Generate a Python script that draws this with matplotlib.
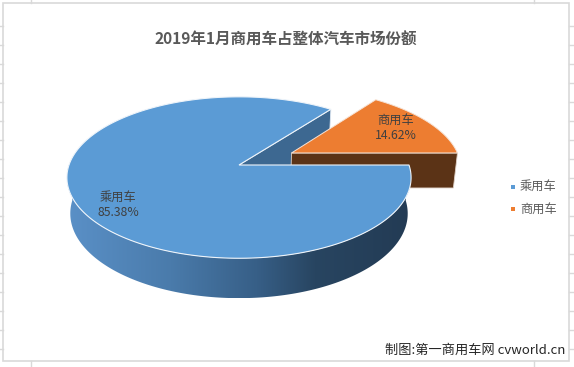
import numpy as np
import matplotlib
matplotlib.use("Agg")
import matplotlib.pyplot as plt
from matplotlib.patches import Polygon, Rectangle
from matplotlib.colors import LinearSegmentedColormap

plt.rcParams['font.family'] = ['Noto Sans CJK SC', 'DejaVu Sans']

# ---------------- data ----------------
title = "2019年1月商用车占整体汽车市场份额"
categories = ["乘用车", "商用车"]
shares = [85.38, 14.62]
pct_labels = ["85.38%", "14.62%"]
credit = "制图:第一商用车网 cvworld.cn"

# ---------------- style / layout ----------------
W, H = 574, 367
top_colors = ["#5b9bd5", "#ed7d31"]
cut_colors = ["#3d6891", "#5b3316"]
explode = [0.0, 0.353]
text_col = "#404040"

# 3D projection parameters (pixel space)
cx, cy = 239.0, 165.0
alpha = np.deg2rad(27.6)
s_a, c_a = np.sin(alpha), np.cos(alpha)
Dcam = 5.70
focal = 969.0
depth_h = 0.241


def proj(X, Y, Z):
    X = np.asarray(X, float); Y = np.asarray(Y, float); Z = np.asarray(Z, float)
    d = Dcam + Y * c_a - Z * s_a
    up = Y * s_a + Z * c_a
    return cx + focal * X / d, cy - focal * up / d


fig = plt.figure(figsize=(W / 100, H / 100), dpi=100)
ax = fig.add_axes([0, 0, 1, 1])
ax.set_xlim(0, W)
ax.set_ylim(H, 0)
ax.axis('off')

# spreadsheet frame and cell stubs
grid_c = "#d9d9d9"
ax.add_patch(Rectangle((2.5, 2.5), 569 - 2.5, 361 - 2.5, fill=False, ec=grid_c, lw=1.2, zorder=1))
for yy in np.arange(26, 361, 19):
    ax.plot([0, 2.5], [yy, yy], color=grid_c, lw=1, zorder=1)
    ax.plot([569, W], [yy, yy], color=grid_c, lw=1, zorder=1)
for xx in [31, 534]:
    ax.plot([xx, xx], [0, 2.5], color=grid_c, lw=1, zorder=1)
    ax.plot([xx, xx], [361, H], color=grid_c, lw=1, zorder=1)

# slice spans (degrees, counter-clockwise from 3 o'clock); the first slice
# starts at 3 o'clock and the slices follow clockwise
total = float(sum(shares))
spans = []
start = 360.0
for v in shares:
    sweep = 360.0 * v / total
    spans.append((start - sweep, start))
    start -= sweep
# -> first: 52.6..360, second: 0..52.6


def slice_geom(i):
    a1, a2 = spans[i]
    mid = np.deg2rad((a1 + a2) / 2)
    return a1, a2, explode[i] * np.cos(mid), explode[i] * np.sin(mid)


def top_poly(i):
    a1, a2, ox, oy = slice_geom(i)
    t = np.deg2rad(np.linspace(a1, a2, 200))
    X = np.concatenate([[ox], ox + np.cos(t)])
    Y = np.concatenate([[oy], oy + np.sin(t)])
    u, v = proj(X, Y, np.zeros_like(X))
    return np.column_stack([u, v])


def cut_poly(i, ang):
    a1, a2, ox, oy = slice_geom(i)
    t = np.deg2rad(ang)
    X = np.array([ox, ox + np.cos(t), ox + np.cos(t), ox])
    Y = np.array([oy, oy + np.sin(t), oy + np.sin(t), oy])
    Z = np.array([0, 0, -depth_h, -depth_h])
    u, v = proj(X, Y, Z)
    return np.column_stack([u, v])


def outer_wall(i):
    a1, a2, ox, oy = slice_geom(i)
    lo, hi = max(a1, 180.0), min(a2, 360.0)
    if hi <= lo:
        return None
    t = np.deg2rad(np.linspace(lo, hi, 200))
    X = ox + np.cos(t); Y = oy + np.sin(t)
    ut, vt = proj(X, Y, np.zeros_like(X))
    ub, vb = proj(X, Y, -depth_h * np.ones_like(X))
    return np.column_stack([np.concatenate([ut, ub[::-1]]), np.concatenate([vt, vb[::-1]])])


# 1. first slice: visible cut wall (at its start angle)
ax.add_patch(Polygon(cut_poly(0, spans[0][0]), closed=True, fc=cut_colors[0],
                     ec="#dfe8f2", lw=0.6, zorder=2))
# 2. exploded slice: front cut wall + top
ax.add_patch(Polygon(cut_poly(1, spans[1][0]), closed=True, fc=cut_colors[1],
                     ec="#e0d2c8", lw=0.6, zorder=3))
ax.add_patch(Polygon(top_poly(1), closed=True, fc=top_colors[1], ec="#f6e3d6", lw=0.7, zorder=4))

# 3. first slice outer wall with gradient
wall = outer_wall(0)
wall_patch = Polygon(wall, closed=True, fc="none", ec="none", zorder=5)
ax.add_patch(wall_patch)
cmap = LinearSegmentedColormap.from_list("side", [
    (0.0, "#5a90c7"), (0.3, "#4a7bab"), (0.55, "#375f87"),
    (0.72, "#284561"), (1.0, "#233b54")])
xmin, xmax = wall[:, 0].min(), wall[:, 0].max()
ymin, ymax = wall[:, 1].min(), wall[:, 1].max()
grad = np.linspace(0, 1, 256)[None, :]
im = ax.imshow(grad, cmap=cmap, extent=[xmin, xmax, ymax, ymin], aspect='auto',
               zorder=5, interpolation='bilinear')
im.set_clip_path(wall_patch)
ax.set_xlim(0, W)
ax.set_ylim(H, 0)

# 4. first slice top
ax.add_patch(Polygon(top_poly(0), closed=True, fc=top_colors[0], ec="#eef4fa", lw=0.8, zorder=6))

# data labels
label_pos = [(118, 205), (396, 128)]
for (lx, ly), cat, pl in zip(label_pos, categories, pct_labels):
    ax.text(lx, ly, cat + "\n" + pl, ha='center', va='center', fontsize=8.8,
            color=text_col, linespacing=1.25, zorder=8)

# title
ax.text(286, 40, title, ha='center', va='center', fontsize=11.2, fontweight='bold',
        color="#595959", zorder=8)

# legend
leg_y = [186.5, 209]
for yy, cat, col in zip(leg_y, categories, top_colors):
    ax.add_patch(Rectangle((511, yy - 2), 4, 4, fc=col, ec='none', zorder=8))
    ax.text(520, yy, cat, ha='left', va='center', fontsize=8.8, color="#595959", zorder=8)

# credit
ax.text(565, 350, credit, ha='right', va='center', fontsize=9.5, color="#262626", zorder=8)

fig.savefig("out.png", dpi=100)
